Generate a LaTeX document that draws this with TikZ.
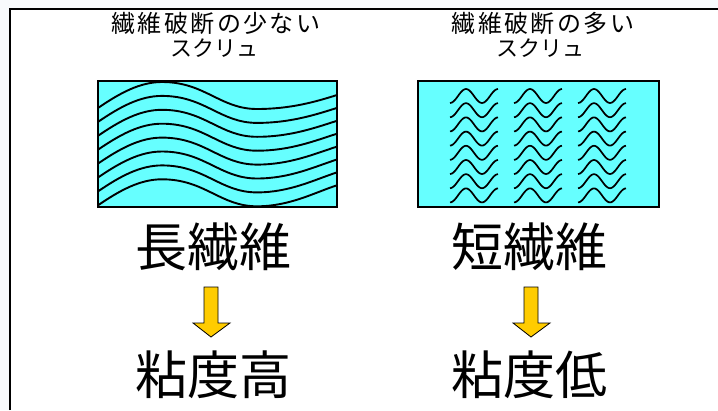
\documentclass[tikz,border=0pt]{standalone}
\usepackage{fontspec}
\newfontfamily\jp{Noto Sans CJK JP}
\newfontfamily\jpspaced[LetterSpace=10]{Noto Sans CJK JP}
\definecolor{fibrecyan}{RGB}{102,255,255}
\definecolor{arrowgold}{RGB}{255,204,0}
\definecolor{outside}{RGB}{248,250,252}
\tikzset{
  panel/.style={draw=black,line width=1.5,fill=fibrecyan},
  fibre/.style={draw=black,line width=1.9},
  smalltitle/.style={font=\jpspaced\fontsize{24}{28}\selectfont,inner sep=0,anchor=center},
  smallsub/.style={font=\jp\fontsize{22}{26}\selectfont,inner sep=0,anchor=center},
  bigtext/.style={font=\jp\fontsize{52}{60}\selectfont,inner sep=0,anchor=center},
  goldarrow/.style={draw=black,line width=0.8,fill=arrowgold,line join=miter},
}
\begin{document}
\begin{tikzpicture}[x=1pt,y=-1pt]
\useasboundingbox (0,0) rectangle (718,410);
\fill[outside] (0,0) rectangle (718,410);
\fill[white] (10,9) rectangle (718,410);
\draw[line width=2] (10,410) -- (10,9) -- (718,9);

% titles
\node[smalltitle] (t1a) at (216,23) {繊維破断の少ない};
\node[smallsub] (t1b) at (214,48) {スクリュ};
\node[smalltitle] (t2a) at (543,23) {繊維破断の多い};
\node[smallsub] (t2b) at (540,48) {スクリュ};

% left panel: long fibres
\path[panel] (98,81) rectangle (337,207);
\begin{scope}
\clip (98,81) rectangle (337,207);
\foreach \i in {0,...,7}{
  \pgfmathsetmacro{\d}{13.9*\i}
  \pgfmathsetmacro{\e}{12.9*\i}
  \draw[fibre] (98,108+\d) .. controls (120,93+\d) and (140,82+\d) .. (162,82+\d)
     .. controls (205,82+\d) and (220,109+\d) .. (257,109+\d)
     .. controls (290,109+\d) and (315,102+\e) .. (337,95+\e);
}
\end{scope}
\draw[line width=1.5] (98,81) rectangle (337,207);

% right panel: short fibres
\path[panel] (418,81) rectangle (659,207);
\foreach \cx in {450,514,578}{
  \foreach \k in {0,...,7}{
    \pgfmathsetmacro{\p}{89+14.2*\k}
    \draw[fibre,line width=1.7] plot[domain=0:48,samples=40,smooth] ({\cx+\x},{\p+7+7*cos(180*\x/16)});
  }
}

% big labels
\node[bigtext] (long) at (213,247) {長繊維};
\node[bigtext] (short) at (529,247) {短繊維};
\node[bigtext] (high) at (213,375) {粘度高};
\node[bigtext] (low) at (529,375) {粘度低};

% arrows
\draw[goldarrow] (204,287) -- (218,287) -- (218,323) -- (230,323) -- (211,337) -- (193,323) -- (204,323) -- cycle;
\draw[goldarrow] (524,287) -- (538,287) -- (538,323) -- (550,323) -- (531,337) -- (513,323) -- (524,323) -- cycle;
\end{tikzpicture}
\end{document}
